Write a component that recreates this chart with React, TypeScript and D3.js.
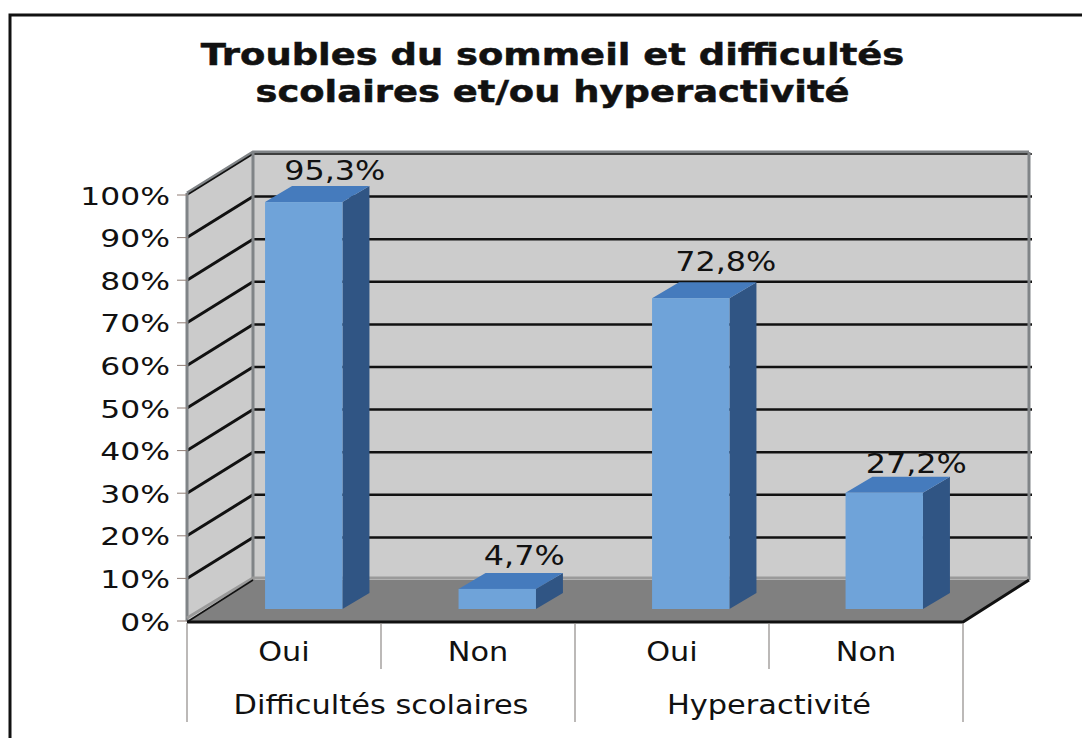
import React from 'react';
import * as d3 from 'd3';

const titleLines = ['Troubles du sommeil et difficultés', 'scolaires et/ou hyperactivité'];
const categories = ['Oui', 'Non', 'Oui', 'Non'];
const groups = ['Difficultés scolaires', 'Hyperactivité'];
const values = [95.3, 4.7, 72.8, 27.2];
const valueLabels = ['95,3%', '4,7%', '72,8%', '27,2%'];
const ticks = [0, 10, 20, 30, 40, 50, 60, 70, 80, 90, 100];

const width = 1082;
const height = 738;
const font = '"DejaVu Sans", Verdana, sans-serif';

// front plane of the box and the offset to its back wall
const left = 187;
const right = 963;
const depthX = 66;
const depthY = 41;

const y = d3.scaleLinear().domain([0, 100]).range([621, 195]);
const x = d3.scaleBand<number>().domain(d3.range(categories.length)).range([left, right]);

// bars sit in the middle of the floor
const barX = d3
  .scaleBand<number>()
  .domain(d3.range(values.length))
  .range([207, 981])
  .paddingInner(0.6)
  .paddingOuter(0.3);
const barY = d3.scaleLinear().domain([0, 100]).range([609, 182]);
const barDepthX = 27;
const barDepthY = 16;

// hand placed data labels, they do not sit evenly over the bars
const nudgeX = [0, -4, 4, 1];
const nudgeY = [-1, -3, -6, 1];

const poly = d3.line<[number, number]>();

// the picture is stretched sideways, so the text gets a stretch too
const Label = ({ x, y, size, stretch, text, anchor = 'middle', bold = false }: any) => (
  <text
    transform={`translate(${x},${y}) scale(${stretch},1)`}
    textAnchor={anchor}
    fontFamily={font}
    fontSize={size}
    fontWeight={bold ? 'bold' : 'normal'}
    fill="#111"
    stroke={bold ? '#111' : 'none'}
    strokeWidth={bold ? 0.5 : 0}
  >
    {text}
  </text>
);

export default function App() {
  const y0 = y(0);
  const y100 = y(100);
  const bw = barX.bandwidth();
  const step = x.step();

  return (
    <svg
      width={width}
      height={height}
      style={{ position: 'fixed', left: 0, top: 0, background: '#fff' }}
    >
      {/* outer frame, cut by the right and bottom of the picture */}
      <path d={`M10,${height}V15H${width}`} fill="none" stroke="#111" strokeWidth={3} />

      {titleLines.map((t, i) => (
        <Label key={i} x={552.5} y={64.5 + i * 37} size={31} stretch={1.19} text={t} bold />
      ))}

      {/* walls */}
      <path
        d={poly([[left, y100], [left + depthX, y100 - depthY], [left + depthX, y0 - depthY], [left, y0]])! + 'Z'}
        fill="#cbcbcb"
      />
      <rect
        x={left + depthX}
        y={y100 - depthY}
        width={right - left}
        height={y0 - y100}
        fill="#cccccc"
      />

      {/* top edge sits just above the 100% gridline */}
      <path
        d={`M${left},${y100 - 2}L${left + depthX},${y100 - depthY - 2}H${right + depthX}`}
        fill="none"
        stroke="#808487"
        strokeWidth={3}
      />

      {/* gridlines on both walls */}
      {ticks.slice(1).map(t => (
        <g key={t}>
          <line x1={left} x2={left + depthX} y1={y(t)} y2={y(t) - depthY} stroke="#111" strokeWidth={t === 100 ? 1.5 : 3} />
          <line
            x1={left + depthX}
            x2={right + depthX + 3}
            y1={y(t) - depthY}
            y2={y(t) - depthY}
            stroke="#111"
            strokeWidth={t === 100 ? 1.5 : 2.5}
          />
        </g>
      ))}

      {/* upright wall edges */}
      <path
        d={`M${left},${y0}V${y100 - 2}M${right + depthX},${y100 - depthY - 2}V${y0 - depthY}`}
        fill="none"
        stroke="#808487"
        strokeWidth={3}
      />
      <line
        x1={left + depthX}
        x2={left + depthX}
        y1={y100 - depthY - 2}
        y2={y0 - depthY}
        stroke="#808487"
        strokeWidth={3}
      />

      {/* floor */}
      <path
        d={poly([[left, y0], [left + depthX, y0 - depthY], [right + depthX, y0 - depthY], [right, y0]])! + 'Z'}
        fill="#808080"
      />
      <path
        d={`M${left},${y0 - 3}L${left + depthX},${y0 - depthY - 2}H${right + depthX}`}
        fill="none"
        stroke="#9a9a9a"
        strokeWidth={3}
      />
      <path
        d={`M${left},${y0 + 1}L${left + depthX},${y0 - depthY}`}
        fill="none"
        stroke="#111"
        strokeWidth={1.5}
      />
      <path
        d={`M${left},${y0 + 1}H${right}L${right + depthX},${y0 - depthY}`}
        fill="none"
        stroke="#111"
        strokeWidth={3}
      />

      {/* bars */}
      {values.map((v, i) => {
        const bx = barX(i)!;
        const top = barY(v);
        const base = barY(0);
        return (
          <g key={i}>
            <path
              d={poly([[bx + bw, top], [bx + bw + barDepthX, top - barDepthY], [bx + bw + barDepthX, base - barDepthY], [bx + bw, base]])! + 'Z'}
              fill="#305584"
            />
            <path
              d={poly([[bx, top], [bx + barDepthX, top - barDepthY], [bx + bw + barDepthX, top - barDepthY], [bx + bw, top]])! + 'Z'}
              fill="#457bbd"
            />
            <rect x={bx} y={top} width={bw} height={base - top} fill="#6fa3d9" />
            <Label
              x={bx + bw / 2 + 31 + nudgeX[i]}
              y={top - 21 + nudgeY[i]}
              size={27}
              stretch={1.18}
              text={valueLabels[i]}
            />
          </g>
        );
      })}

      {/* y axis */}
      {ticks.map(t => (
        <g key={t}>
          <line x1={177} x2={left} y1={y(t)} y2={y(t)} stroke="#8f7d75" strokeWidth={1} />
          <Label x={170} y={y(t) + 9.5} size={25.5} stretch={1.23} text={`${t}%`} anchor="end" />
        </g>
      ))}

      {/* two level category axis */}
      {d3.range(categories.length + 1).map(i => (
        <line
          key={i}
          x1={left + i * step}
          x2={left + i * step}
          y1={y0 + 2}
          y2={i % 2 === 0 ? 722 : 669}
          stroke="#8f8a88"
          strokeWidth={1.2}
        />
      ))}
      {categories.map((c, i) => (
        <Label key={i} x={x(i)! + step / 2} y={661} size={26} stretch={1.165} text={c} />
      ))}
      {groups.map((g, i) => (
        <Label key={i} x={left + step * (2 * i + 1)} y={714} size={26} stretch={1.17} text={g} />
      ))}
    </svg>
  );
}
